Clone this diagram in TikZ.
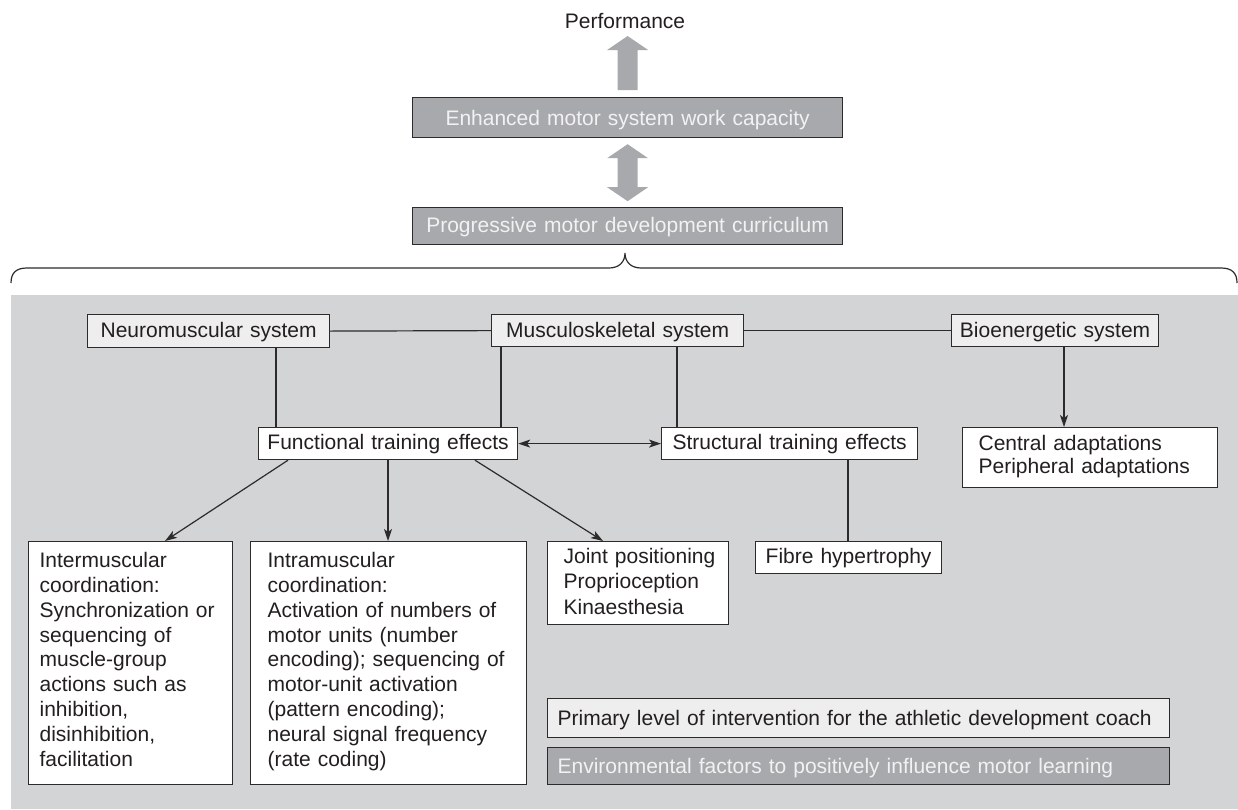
\documentclass[tikz,border=0pt]{standalone}
\usepackage{fontspec}
\setmainfont{Liberation Sans}
\usetikzlibrary{arrows.meta}
\definecolor{panel}{RGB}{211,212,214}
\definecolor{lightf}{RGB}{238,238,239}
\definecolor{darkf}{RGB}{167,169,172}
\definecolor{linec}{RGB}{45,42,43}
\definecolor{txt}{RGB}{35,31,32}
\definecolor{darktxt}{RGB}{242,242,242}
\begin{document}
\begin{tikzpicture}[x=1pt,y=-1pt,
  box/.style={anchor=north west, inner sep=0pt, draw=linec, line width=1.2pt,
    text=txt, font=\fontsize{21}{24.8}\selectfont},
  lightbox/.style={box, fill=lightf},
  whitebox/.style={box, fill=white},
  darkbox/.style={box, fill=darkf, text=darktxt},
  link/.style={draw=linec, line width=1.2pt},
  tip/.tip={Stealth[length=12pt,width=8pt,inset=3pt]},
  arr/.style={link, -tip},
  biarr/.style={link, tip-tip},
  bigarrow/.style={fill=darkf},
]
\useasboundingbox (0,0) rectangle (1238,809);

% shaded panel holding the training systems
\fill[panel] (11,295) rectangle (1238,809);

% top column
\node[anchor=base, inner sep=0pt, text=txt, font=\fontsize{21}{24.8}\selectfont] (perf) at (625,28) {Performance};
\node[darkbox, text width=430pt, align=center, text height=28pt, text depth=12pt] (enh) at (412,97) {Enhanced motor system work capacity};
\node[darkbox, text width=430pt, align=center, text height=25pt, text depth=12pt] (prog) at (412,207) {Progressive motor development curriculum};

% wide gray arrows
\begin{scope}[shift={(enh.north)}]
  \fill[bigarrow] (-10,-7) -- (-10,-47) -- (-20.5,-47) -- (0,-61) -- (20.5,-47) -- (10,-47) -- (10,-7) -- cycle;
\end{scope}
\begin{scope}[shift={(enh.south)}]
  \fill[bigarrow] (0,6) -- (20.5,20) -- (10,20) -- (10,49) -- (20.5,49) -- (0,63)
    -- (-20.5,49) -- (-10,49) -- (-10,20) -- (-20.5,20) -- cycle;
\end{scope}

% brace under the curriculum
\draw[link] (11,283) .. controls (11,273) and (16,268) .. (27,268) -- (609,268)
  .. controls (619,268) and (625,262) .. (625,253)
  .. controls (625,262) and (631,268) .. (641,268) -- (1221,268)
  .. controls (1232,268) and (1237,273) .. (1237,283);

% systems
\node[lightbox, text width=242pt, align=center, text height=23pt, text depth=10pt] (neuro) at (87,314) {Neuromuscular system};
\node[lightbox, text width=252pt, align=center, text height=23pt, text depth=9pt] (musc) at (491,314) {Musculoskeletal system};
\node[lightbox, text width=207pt, align=center, text height=23pt, text depth=9pt] (bio) at (951,314) {Bioenergetic system};

% training effects
\node[whitebox, text width=259pt, align=center, text height=22pt, text depth=10pt] (func) at (258,427) {Functional training effects};
\node[whitebox, text width=256pt, align=center, text height=22pt, text depth=10pt] (struct) at (661,427) {Structural training effects};
\node[whitebox, text width=255pt, align=left, text height=23pt, text depth=37pt,
  font=\fontsize{21}{23}\selectfont] (central) at (962,427)
  {\leftskip=16pt Central adaptations\\Peripheral adaptations\par};

% outcomes
\node[whitebox, text width=204pt, align=left, text height=26pt, text depth=217pt] (inter) at (28,541)
  {\leftskip=11pt Intermuscular\\coordination:\\Synchronization or\\sequencing of\\muscle-group\\actions such as\\inhibition,\\disinhibition,\\facilitation\par};
\node[whitebox, text width=276pt, align=left, text height=26pt, text depth=217pt] (intra) at (250,541)
  {\leftskip=17pt Intramuscular\\coordination:\\Activation of numbers of\\motor units (number\\encoding); sequencing of\\motor-unit activation\\(pattern encoding);\\neural signal frequency\\(rate coding)\par};
\node[whitebox, text width=181pt, align=left, text height=22pt, text depth=61pt,
  font=\fontsize{21}{25.3}\selectfont] (joint) at (547,541)
  {\leftskip=16pt Joint positioning\\Proprioception\\Kinaesthesia\par};
\node[whitebox, text width=186pt, align=center, text height=22pt, text depth=10pt] (fibre) at (755,541) {Fibre hypertrophy};

% key
\node[lightbox, text width=622pt, align=left, text height=27pt, text depth=12pt] (primary) at (547,698)
  {\leftskip=10pt Primary level of intervention for the athletic development coach\par};
\node[darkbox, text width=622pt, align=left, text height=26pt, text depth=11pt] (env) at (547,747)
  {\leftskip=10pt Environmental factors to positively influence motor learning\par};

% connectors
\draw[link] (neuro.east) -- (musc.west);
\draw[link] (musc.east) -- (bio.west);
\draw[link] (neuro.south -| 276,0) -- (func.north -| 276,0);
\draw[link] (musc.south -| 501,0) -- (func.north -| 501,0);
\draw[link] (musc.south -| 677,0) -- (struct.north -| 677,0);
\draw[biarr] (func.east) -- (struct.west);
\draw[arr] (bio.south -| 1064,0) -- (central.north -| 1064,0);
\draw[link] (struct.south -| 848,0) -- (fibre.north -| 848,0);
\draw[arr] (func.south -| 288,0) -- (inter.north -| 165,0);
\draw[arr] (func.south -| 388,0) -- (intra.north -| 388,0);
\draw[arr] (func.south -| 475,0) -- (joint.north -| 603,0);
\end{tikzpicture}
\end{document}
